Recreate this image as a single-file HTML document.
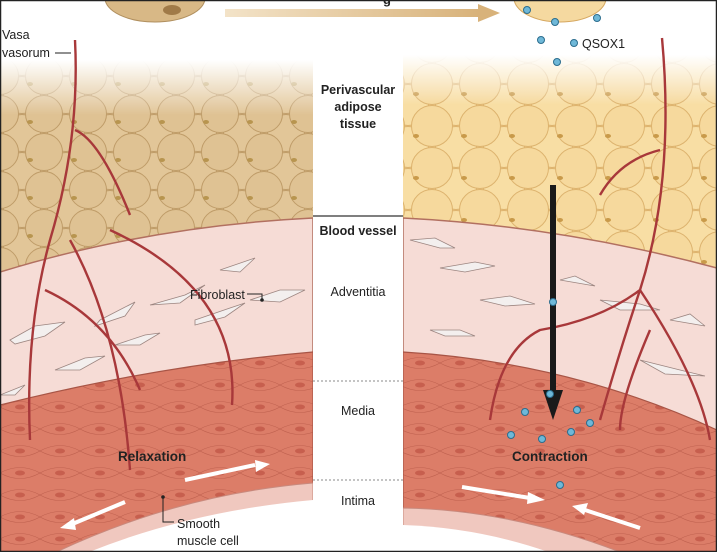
<!DOCTYPE html>
<html><head><meta charset="utf-8"><style>
html,body{margin:0;padding:0;background:#fff}
svg{display:block}
text{font-family:"Liberation Sans",sans-serif}
</style></head><body>
<svg width="717" height="552" viewBox="0 0 717 552" xmlns="http://www.w3.org/2000/svg">
<defs>
<pattern id="tan" width="44" height="38" patternUnits="userSpaceOnUse">
<rect width="44" height="38" fill="#d7b685"/>
<circle cx="22" cy="19" r="18.5" fill="#e2c698" stroke="#bf9c68" stroke-width="1"/>
<circle cx="0" cy="0" r="18.5" fill="#dfc293" stroke="#bf9c68" stroke-width="1"/>
<circle cx="44" cy="0" r="18.5" fill="#dfc293" stroke="#bf9c68" stroke-width="1"/>
<circle cx="0" cy="38" r="18.5" fill="#dfc293" stroke="#bf9c68" stroke-width="1"/>
<circle cx="44" cy="38" r="18.5" fill="#dfc293" stroke="#bf9c68" stroke-width="1"/>
<ellipse cx="30" cy="8" rx="3" ry="2" fill="#b8954f"/>
</pattern>
<pattern id="yel" width="48" height="42" patternUnits="userSpaceOnUse">
<rect width="48" height="42" fill="#f2cf8a"/>
<circle cx="24" cy="21" r="20.5" fill="#f8dea4" stroke="#ddb36e" stroke-width="1"/>
<circle cx="0" cy="0" r="20.5" fill="#f6d99d" stroke="#ddb36e" stroke-width="1"/>
<circle cx="48" cy="0" r="20.5" fill="#f6d99d" stroke="#ddb36e" stroke-width="1"/>
<circle cx="0" cy="42" r="20.5" fill="#f6d99d" stroke="#ddb36e" stroke-width="1"/>
<circle cx="48" cy="42" r="20.5" fill="#f6d99d" stroke="#ddb36e" stroke-width="1"/>
<ellipse cx="32" cy="10" rx="3" ry="2" fill="#c99a4a"/>
</pattern>
<pattern id="muscle" width="40" height="22" patternUnits="userSpaceOnUse">
<rect width="40" height="22" fill="#dc7d68"/>
<path d="M0 11 Q20 0 40 11 M0 11 Q20 22 40 11" fill="none" stroke="#c0614f" stroke-width="0.6"/>
<ellipse cx="20" cy="11" rx="5" ry="2.5" fill="#c75f4e"/>
</pattern>
<linearGradient id="fadeL" x1="0" y1="0" x2="0" y2="1">
<stop offset="0" stop-color="#fff" stop-opacity="1"/><stop offset="1" stop-color="#fff" stop-opacity="0"/>
</linearGradient>
<linearGradient id="arr" x1="0" x2="1"><stop offset="0" stop-color="#f3e3c8"/><stop offset="1" stop-color="#d8b27a"/></linearGradient>
</defs>

<!-- LEFT PANEL -->
<rect x="0" y="60" width="313" height="220" fill="url(#tan)"/>
<rect x="0" y="60" width="313" height="55" fill="url(#fadeL)"/>
<rect x="0" y="0" width="313" height="60" fill="#fff"/>
<path d="M0 272 Q150 226 313 218 L313 560 L0 560Z" fill="#f6dcd6" stroke="#b27060" stroke-width="1.5"/>
<path d="M0 405 Q160 365 313 352 L313 560 L0 560Z" fill="url(#muscle)" stroke="#a85546" stroke-width="1.2"/>
<path d="M40 560 Q170 495 313 483 L313 560Z" fill="#f0c8bf" stroke="#c88a7e" stroke-width="1"/>
<path d="M70 560 Q180 512 313 500 L313 560Z" fill="#fff"/>
<g fill="#f3efee" stroke="#9c8580" stroke-width="0.8">
<path d="M10 340 l25 -14 l30 -4 l-20 14 l-30 8z"/><path d="M100 320 l35 -18 l-10 14 l-30 10z"/>
<path d="M150 305 l35 -10 l20 -10 l-25 18z"/><path d="M195 320 l35 -12 l15 -5 l-20 14 l-30 8z"/>
<path d="M55 370 l30 -12 l20 -2 l-25 14z"/><path d="M115 345 l30 -10 l15 -2 l-20 12z"/>
<path d="M250 300 l30 -10 l25 0 l-25 12z"/><path d="M0 395 l25 -10 l-10 10z"/>
<path d="M220 270 l35 -12 l-15 14z"/>
</g>
<g fill="none" stroke="#a8383a" stroke-width="2.4">
<path d="M75 40 Q80 140 50 240 Q25 330 30 440"/>
<path d="M75 130 Q100 140 130 215"/>
<path d="M70 240 Q120 330 130 470"/>
<path d="M110 230 Q240 290 232 405"/>
<path d="M45 290 Q110 320 140 390"/>
</g>
<path d="M185 480 L255 465" stroke="#fff" stroke-width="4"/><path d="M255 460 L270 464 L256 472z" fill="#fff"/>
<path d="M125 502 L70 525" stroke="#fff" stroke-width="4"/><path d="M60 528 L74 518 L76 530z" fill="#fff"/>

<!-- RIGHT PANEL -->
<rect x="403" y="55" width="314" height="225" fill="url(#yel)"/>
<rect x="403" y="55" width="314" height="50" fill="url(#fadeL)"/>
<rect x="403" y="0" width="314" height="55" fill="#fff"/>
<path d="M403 218 Q560 226 717 268 L717 560 L403 560Z" fill="#f6dcd6" stroke="#b27060" stroke-width="1.5"/>
<path d="M403 352 Q570 362 717 430 L717 560 L403 560Z" fill="url(#muscle)" stroke="#a85546" stroke-width="1.2"/>
<path d="M403 508 Q520 510 640 560 L403 560Z" fill="#f0c8bf" stroke="#c88a7e" stroke-width="1"/>
<path d="M403 525 Q490 528 570 560 L403 560Z" fill="#fff"/>
<g fill="#f3efee" stroke="#9c8580" stroke-width="0.8">
<path d="M410 240 l30 8 l15 0 l-20 -10z"/><path d="M440 268 l35 -6 l20 4 l-30 6z"/>
<path d="M480 300 l30 -4 l25 8 l-30 2z"/><path d="M600 300 l40 4 l20 6 l-40 0z"/>
<path d="M640 360 l40 10 l25 6 l-40 -2z"/><path d="M560 280 l35 6 l-20 -10z"/>
<path d="M430 330 l30 0 l15 6 l-30 0z"/><path d="M670 320 l35 6 l-15 -12z"/>
</g>
<g fill="none" stroke="#a8383a" stroke-width="2.4">
<path d="M662 38 Q675 180 640 290 Q620 350 600 420"/>
<path d="M660 150 Q620 160 600 195"/>
<path d="M640 290 Q600 320 540 330 Q500 350 490 420"/>
<path d="M640 290 Q700 380 710 440"/>
<path d="M650 330 Q620 400 620 430"/>
</g>
<rect x="550" y="185" width="6" height="210" fill="#1a1a1a"/>
<path d="M543 390 L563 390 L553 420z" fill="#1a1a1a"/>
<path d="M462 487 L530 498" stroke="#fff" stroke-width="4"/><path d="M528 492 L545 500 L527 504z" fill="#fff"/>
<path d="M640 528 L585 510" stroke="#fff" stroke-width="4"/><path d="M572 506 L588 503 L584 515z" fill="#fff"/>

<!-- center column -->
<rect x="313" y="0" width="90" height="552" fill="#fff"/>
<line x1="313" y1="216" x2="403" y2="216" stroke="#333" stroke-width="1.2"/>
<line x1="313" y1="381" x2="403" y2="381" stroke="#888" stroke-width="1" stroke-dasharray="2,2"/>
<line x1="313" y1="480" x2="403" y2="480" stroke="#888" stroke-width="1" stroke-dasharray="2,2"/>

<!-- top cells and arrow -->
<ellipse cx="155" cy="-2" rx="50" ry="24" fill="#d8b886" stroke="#b08f5e"/>
<ellipse cx="172" cy="10" rx="9" ry="5" fill="#a07a48"/>
<rect x="225" y="9" width="255" height="8" fill="url(#arr)"/>
<path d="M478 4 L500 13 L478 22z" fill="#d8b27a"/>
<ellipse cx="560" cy="-2" rx="46" ry="24" fill="#f5d9a0" stroke="#d6a860"/>
<text x="383" y="4" font-size="13" font-weight="bold" fill="#222">g</text>

<g fill="#6fb8d8" stroke="#2b6d8e" stroke-width="1">
<circle cx="527" cy="10" r="3.5"/><circle cx="555" cy="22" r="3.5"/><circle cx="597" cy="18" r="3.5"/>
<circle cx="541" cy="40" r="3.5"/><circle cx="574" cy="43" r="3.5"/><circle cx="557" cy="62" r="3.5"/>
<circle cx="553" cy="302" r="3.5"/><circle cx="550" cy="394" r="3.5"/><circle cx="525" cy="412" r="3.5"/>
<circle cx="577" cy="410" r="3.5"/><circle cx="590" cy="423" r="3.5"/><circle cx="511" cy="435" r="3.5"/>
<circle cx="542" cy="439" r="3.5"/><circle cx="571" cy="432" r="3.5"/><circle cx="560" cy="485" r="3.5"/>
</g>

<g text-anchor="middle" font-size="12.5" fill="#222">
<text x="358" y="94" font-weight="bold">Perivascular</text>
<text x="358" y="111" font-weight="bold">adipose</text>
<text x="358" y="128" font-weight="bold">tissue</text>
<text x="358" y="235" font-weight="bold">Blood vessel</text>
<text x="358" y="296">Adventitia</text>
<text x="358" y="415">Media</text>
<text x="358" y="505">Intima</text>
</g>
<g font-size="12.5" fill="#222">
<text x="2" y="39">Vasa</text>
<text x="2" y="57">vasorum</text>
<line x1="55" y1="53" x2="71" y2="53" stroke="#222"/>
<text x="582" y="48">QSOX1</text>
<text x="190" y="299">Fibroblast</text>
<path d="M247 294 L262 294 L262 300" fill="none" stroke="#222"/>
<circle cx="262" cy="300" r="1.8" fill="#222"/>
<text x="177" y="528">Smooth</text>
<text x="177" y="545">muscle cell</text>
<path d="M163 497 L163 522 L174 522" fill="none" stroke="#222"/>
<circle cx="163" cy="497" r="1.8" fill="#222"/>
<text x="118" y="461" font-weight="bold" font-size="13.5">Relaxation</text>
<text x="512" y="461" font-weight="bold" font-size="13.5">Contraction</text>
</g>
<rect x="0.5" y="0.5" width="716" height="551" fill="none" stroke="#222" stroke-width="1.5"/>
</svg>
</body></html>
